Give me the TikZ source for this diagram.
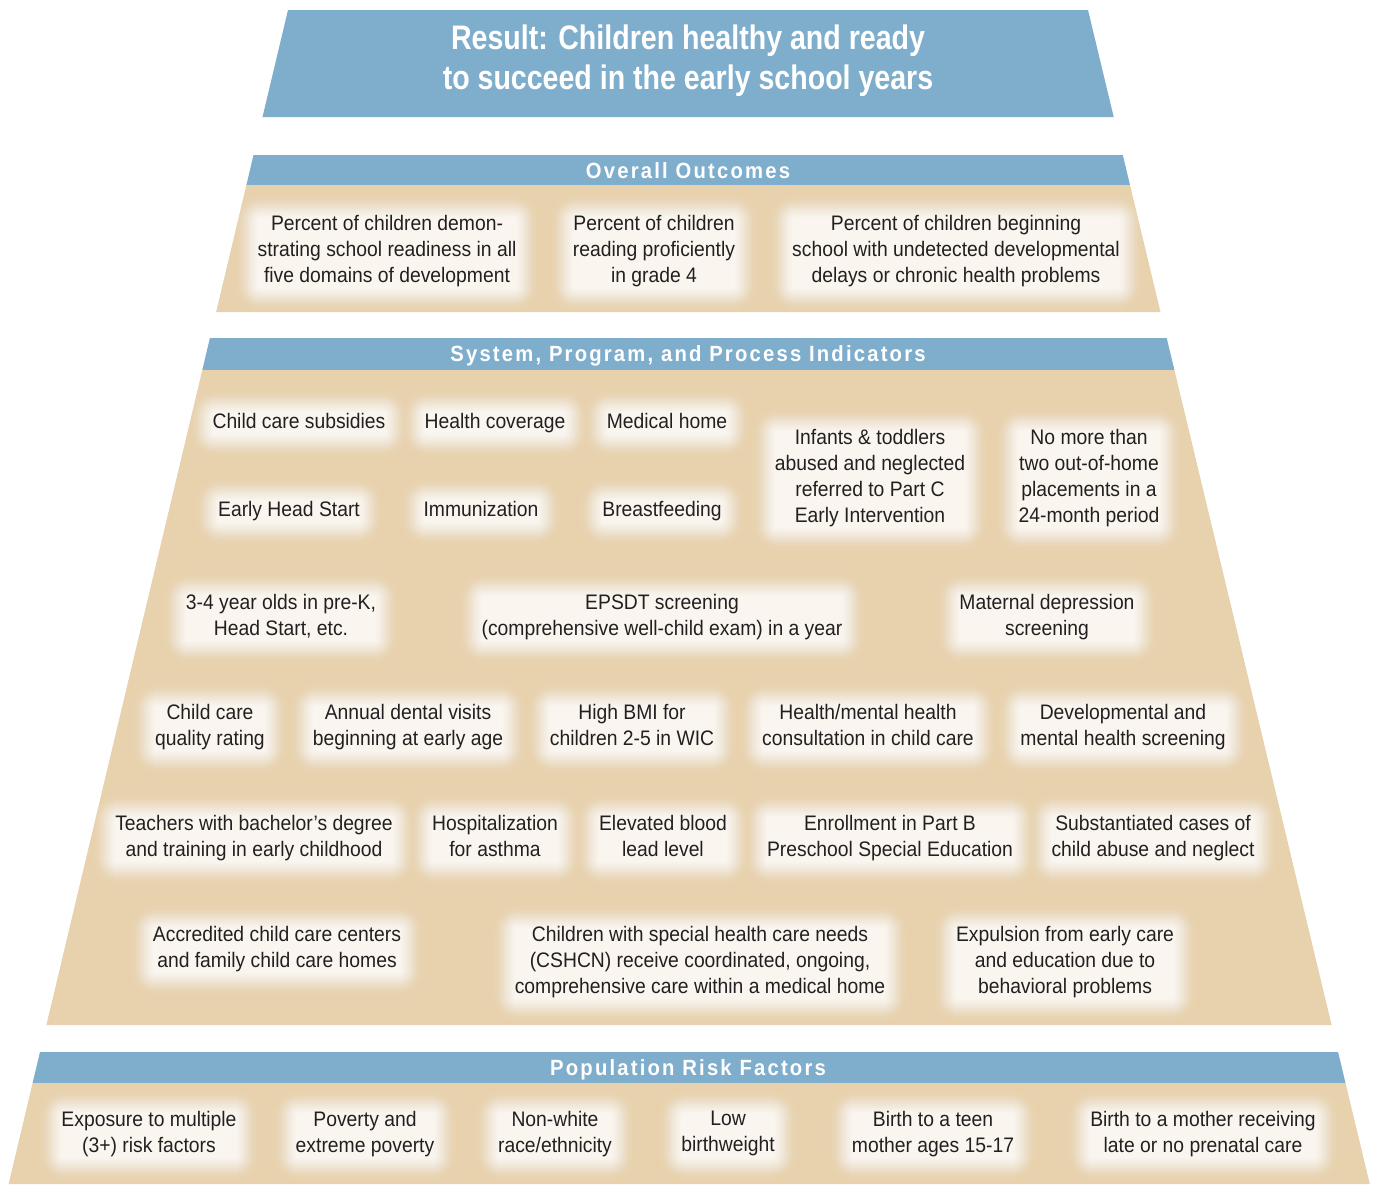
\documentclass[tikz,border=0pt]{standalone}
\usepackage{fontspec}
\setmainfont{Liberation Sans}[FakeStretch=0.92]
\newfontfamily\titlefont{Liberation Sans}[FakeStretch=0.84]
\definecolor{pblue}{RGB}{127,174,205}
\definecolor{ptan}{RGB}{232,210,174}
\definecolor{pcream}{RGB}{250,246,239}
\definecolor{ptext}{RGB}{35,31,32}
\pgfdeclarelayer{bgzero}
\pgfdeclarelayer{bgone}
\pgfsetlayers{bgzero,bgone,main}
\tikzset{
  gbox/.style={align=center, text=ptext,
    font=\fontsize{21}{26}\selectfont, inner xsep=5pt, inner ysep=3pt,
    execute at begin node=\strut, execute at end node=\strut},
  hdr/.style={text=white, font=\fontsize{22}{26}\selectfont\bfseries\addfontfeatures{LetterSpace=10}},
  ttl/.style={text=white, align=center, font=\titlefont\fontsize{34}{40}\selectfont\bfseries},
}
% soft glow: nested rectangles whose composite opacity follows a smoothstep ramp
\newcommand\glowit[1]{%
  \foreach \k in {0,...,23}{%
    \pgfmathsetmacro\ii{24-\k}%
    \pgfmathsetmacro\tt{\ii/24}%
    \pgfmathsetmacro\tp{(\ii-1)/24}%
    \pgfmathsetmacro\AA{3*\tt*\tt-2*\tt*\tt*\tt}%
    \pgfmathsetmacro\Ap{3*\tp*\tp-2*\tp*\tp*\tp}%
    \pgfmathsetmacro\al{min(1,(\AA-\Ap)/(1-\Ap))}%
    \pgfmathsetmacro\dd{\k-5}%
    \pgfmathsetmacro\rr{\k+3}%
    \fill[pcream, fill opacity=\al, rounded corners=\rr pt]
      ([shift={(-\dd,-\dd)}]#1.north west) rectangle ([shift={(\dd,\dd)}]#1.south east);
  }%
}
\begin{document}
\begin{tikzpicture}[x=1pt,y=-1pt]
\useasboundingbox (0,0) rectangle (1373,1184);
% pyramid bands
\begin{pgfonlayer}{bgzero}
\fill[pblue] (288,10) -- (1088,10) -- (1113.7,117) -- (262.5,117) -- cycle;
\fill[pblue] (253.5,155) -- (1122.8,155) -- (1130,185) -- (246.4,185) -- cycle;
\fill[ptan] (246.4,185) -- (1130,185) -- (1160.5,312) -- (216.1,312) -- cycle;
\fill[pblue] (209.9,338) -- (1166.7,338) -- (1174.4,370) -- (202.3,370) -- cycle;
\fill[ptan] (202.3,370) -- (1174.4,370) -- (1331.6,1025) -- (46.4,1025) -- cycle;
\fill[pblue] (40,1052) -- (1338.1,1052) -- (1345.5,1083) -- (32.6,1083) -- cycle;
\fill[ptan] (32.6,1083) -- (1345.5,1083) -- (1369.8,1184) -- (8.6,1184) -- cycle;
\end{pgfonlayer}
% headers
\node[ttl] (title) at (688,61) {Result: Children healthy and ready\\to succeed in the early school years};
\node[hdr] (hout) at (688,171) {Overall Outcomes};
\node[hdr] (hsys) at (688,356) {System, Program, and Process Indicators};
\node[hdr] (hpop) at (688,1070) {Population Risk Factors};
% outcomes
\node[gbox] (o1) at (387,253) {Percent of children demon-\\strating school readiness in all\\five domains of development};
\node[gbox] (o2) at (654,253) {Percent of children\\reading proficiently\\in grade 4};
\node[gbox] (o3) at (956,253) {Percent of children beginning\\school with undetected developmental\\delays or chronic health problems};
% system row A/B
\node[gbox] (s1) at (299,423.5) {Child care subsidies};
\node[gbox] (s2) at (495,423.5) {Health coverage};
\node[gbox] (s3) at (667,423.5) {Medical home};
\node[gbox] (s4) at (289,511.5) {Early Head Start};
\node[gbox] (s5) at (481,511.5) {Immunization};
\node[gbox] (s6) at (662,511.5) {Breastfeeding};
\node[gbox] (s7) at (870,479.5) {Infants \& toddlers\\abused and neglected\\referred to Part C\\Early Intervention};
\node[gbox] (s8) at (1089,479.5) {No more than\\two out-of-home\\placements in a\\24-month period};
% row C
\node[gbox] (s9) at (281,618.5) {3-4 year olds in pre-K,\\Head Start, etc.};
\node[gbox] (s10) at (662,618.5) {EPSDT screening\\(comprehensive well-child exam) in a year};
\node[gbox] (s11) at (1047,618.5) {Maternal depression\\screening};
% row D
\node[gbox] (s12) at (210,728.5) {Child care\\quality rating};
\node[gbox] (s13) at (408,728.5) {Annual dental visits\\beginning at early age};
\node[gbox] (s14) at (632,728.5) {High BMI for\\children 2-5 in WIC};
\node[gbox] (s15) at (868,728.5) {Health/mental health\\consultation in child care};
\node[gbox] (s16) at (1123,728.5) {Developmental and\\mental health screening};
% row E
\node[gbox] (s17) at (254,839.5) {Teachers with bachelor’s degree\\and training in early childhood};
\node[gbox] (s18) at (495,839.5) {Hospitalization\\for asthma};
\node[gbox] (s19) at (663,839.5) {Elevated blood\\lead level};
\node[gbox] (s20) at (890,839.5) {Enrollment in Part B\\Preschool Special Education};
\node[gbox] (s21) at (1153,839.5) {Substantiated cases of\\child abuse and neglect};
% row F
\node[gbox] (s22) at (277,950.5) {Accredited child care centers\\and family child care homes};
\node[gbox] (s23) at (700,963.5) {Children with special health care needs\\(CSHCN) receive coordinated, ongoing,\\comprehensive care within a medical home};
\node[gbox] (s24) at (1065,963.5) {Expulsion from early care\\and education due to\\behavioral problems};
% population
\node[gbox] (p1) at (149,1135.5) {Exposure to multiple\\(3+) risk factors};
\node[gbox] (p2) at (365,1135.5) {Poverty and\\extreme poverty};
\node[gbox] (p3) at (555,1135.5) {Non-white\\race/ethnicity};
\node[gbox] (p4) at (728,1135.5) {Low\\birthweight};
\node[gbox] (p5) at (933,1135.5) {Birth to a teen\\mother ages 15-17};
\node[gbox] (p6) at (1203,1135.5) {Birth to a mother receiving\\late or no prenatal care};
% glows behind the text boxes
\begin{pgfonlayer}{bgone}
\foreach \n in {o1,o2,o3,s1,s2,s3,s4,s5,s6,s7,s8,s9,s10,s11,s12,s13,s14,s15,s16,s17,s18,s19,s20,s21,s22,s23,s24,p1,p2,p3,p4,p5,p6}{\glowit{\n}}
\end{pgfonlayer}
\end{tikzpicture}
\end{document}
